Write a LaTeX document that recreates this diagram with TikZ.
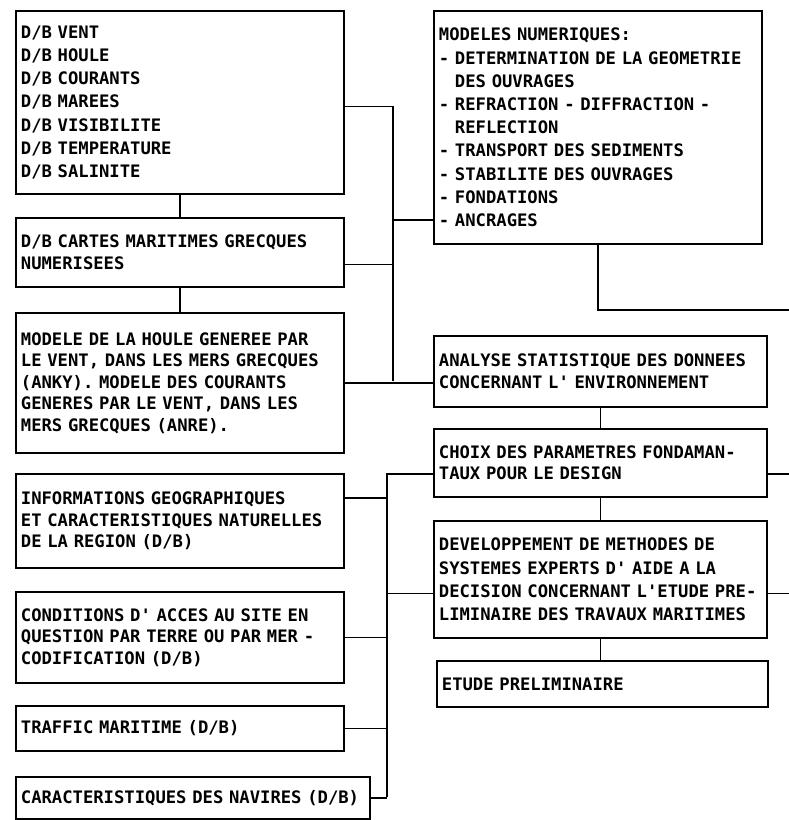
\documentclass[tikz,border=0pt]{standalone}
\usepackage{fontspec}
\newfontfamily\dmfont{DejaVu Sans Mono}
\usepackage{tikz}

\begin{document}
\begin{tikzpicture}
  [x=1pt,y=-1pt,
   box/.style={draw,line width=1.8pt,anchor=north west,align=left,inner xsep=5pt,
     font=\dmfont\bfseries\fontsize{17.2pt}{21.5pt}\selectfont},
   wide/.style={font=\dmfont\bfseries\fontsize{17.2pt}{23.2pt}\selectfont},
   every path/.style={line width=1.8pt}]
  \useasboundingbox (0,0) rectangle (789,820);

  \node[box,wide,text width=318pt,minimum height=183pt] (dbenv) at (15,10)
    {D/B VENT\\D/B HOULE\\D/B COURANTS\\D/B MAREES\\D/B VISIBILITE\\D/B TEMPERATURE\\D/B SALINITE};
  \node[box,text width=318pt,minimum height=69pt] (cartes) at (15,217)
    {D/B CARTES MARITIMES GRECQUES\\NUMERISEES};
  \node[box,text width=318pt,minimum height=140pt] (houle) at (15,312)
    {MODELE DE LA HOULE GENEREE PAR\\\mbox{LE VENT, DANS LES MERS GRECQUES}\\(ANKY). MODELE DES COURANTS\\GENERES PAR LE VENT, DANS LES\\MERS GRECQUES (ANRE).};
  \node[box,text width=318pt,minimum height=94pt] (geo) at (15,473)
    {INFORMATIONS GEOGRAPHIQUES\\\mbox{ET CARACTERISTIQUES NATURELLES}\\DE LA REGION (D/B)};
  \node[box,text width=318pt,minimum height=91pt] (acces) at (15,591)
    {CONDITIONS D' ACCES AU SITE EN\\\mbox{QUESTION PAR TERRE OU PAR MER -}\\CODIFICATION (D/B)};
  \node[box,text width=318pt,minimum height=45pt] (trafic) at (15,705)
    {TRAFFIC MARITIME (D/B)};
  \node[box,text width=344pt,minimum height=42pt] (navires) at (15,776)
    {\mbox{CARACTERISTIQUES DES NAVIRES (D/B)}};

  \node[box,wide,text width=318pt,minimum height=233pt] (modeles) at (433,10)
    {MODELES NUMERIQUES:\\\mbox{- DETERMINATION DE LA GEOMETRIE}\\\phantom{- }DES OUVRAGES\\- REFRACTION - DIFFRACTION -\\\phantom{- }REFLECTION\\- TRANSPORT DES SEDIMENTS\\- STABILITE DES OUVRAGES\\- FONDATIONS\\- ANCRAGES};
  \node[box,text width=323pt,minimum height=71pt] (analyse) at (433,335)
    {\mbox{ANALYSE STATISTIQUE DES DONNEES}\\CONCERNANT L' ENVIRONNEMENT};
  \node[box,text width=323pt,minimum height=68pt] (choix) at (433,428)
    {CHOIX DES PARAMETRES FONDAMAN-\\TAUX POUR LE DESIGN};
  \node[box,wide,text width=323pt,minimum height=117pt] (devel) at (433,520)
    {DEVELOPPEMENT DE METHODES DE\\SYSTEMES EXPERTS D' AIDE A LA\\\mbox{DECISION CONCERNANT L'ETUDE PRE-}\\\mbox{LIMINAIRE DES TRAVAUX MARITIMES}};
  \node[box,text width=321pt,minimum height=46pt] (etude) at (436,660)
    {ETUDE PRELIMINAIRE};

  \coordinate (b1) at (393,381);
  \coordinate (b2) at (387,797);
  \coordinate (r1) at (789,310);
  \coordinate (r2) at (789,0);

  \draw (dbenv.south) -- (cartes.north);
  \draw (cartes.south) -- (houle.north);
  \draw ([yshift=-4pt]dbenv.east) -| (b1);
  \draw ([yshift=-12pt]cartes.east) -- ([yshift=-12pt]cartes.east -| b1);
  \draw ([yshift=25pt]modeles.south west) -- ([yshift=25pt]modeles.south west -| b1);
  \draw (houle.east) -- (houle.east -| analyse.west);
  \draw (modeles.south) |- (r1);
  \draw (analyse.south) -- (choix.north);
  \draw (choix.south) -- (devel.north);
  \draw (devel.south) -- (devel.south |- etude.north);
  \draw ([yshift=-11pt]choix.west) -| (b2);
  \draw ([yshift=23pt]geo.east) -- ([yshift=23pt]geo.east -| b2);
  \draw ([yshift=-14pt]devel.west) -- ([yshift=-14pt]devel.west -| b2);
  \foreach \a in {acces,trafic,navires}
    \draw (\a.east) -- (\a.east -| b2);
  \draw ([yshift=-11pt]choix.east) -- ([yshift=-11pt]choix.east -| r2);
  \draw ([yshift=-14pt]devel.east) -- ([yshift=-14pt]devel.east -| r2);

\end{tikzpicture}
\end{document}
